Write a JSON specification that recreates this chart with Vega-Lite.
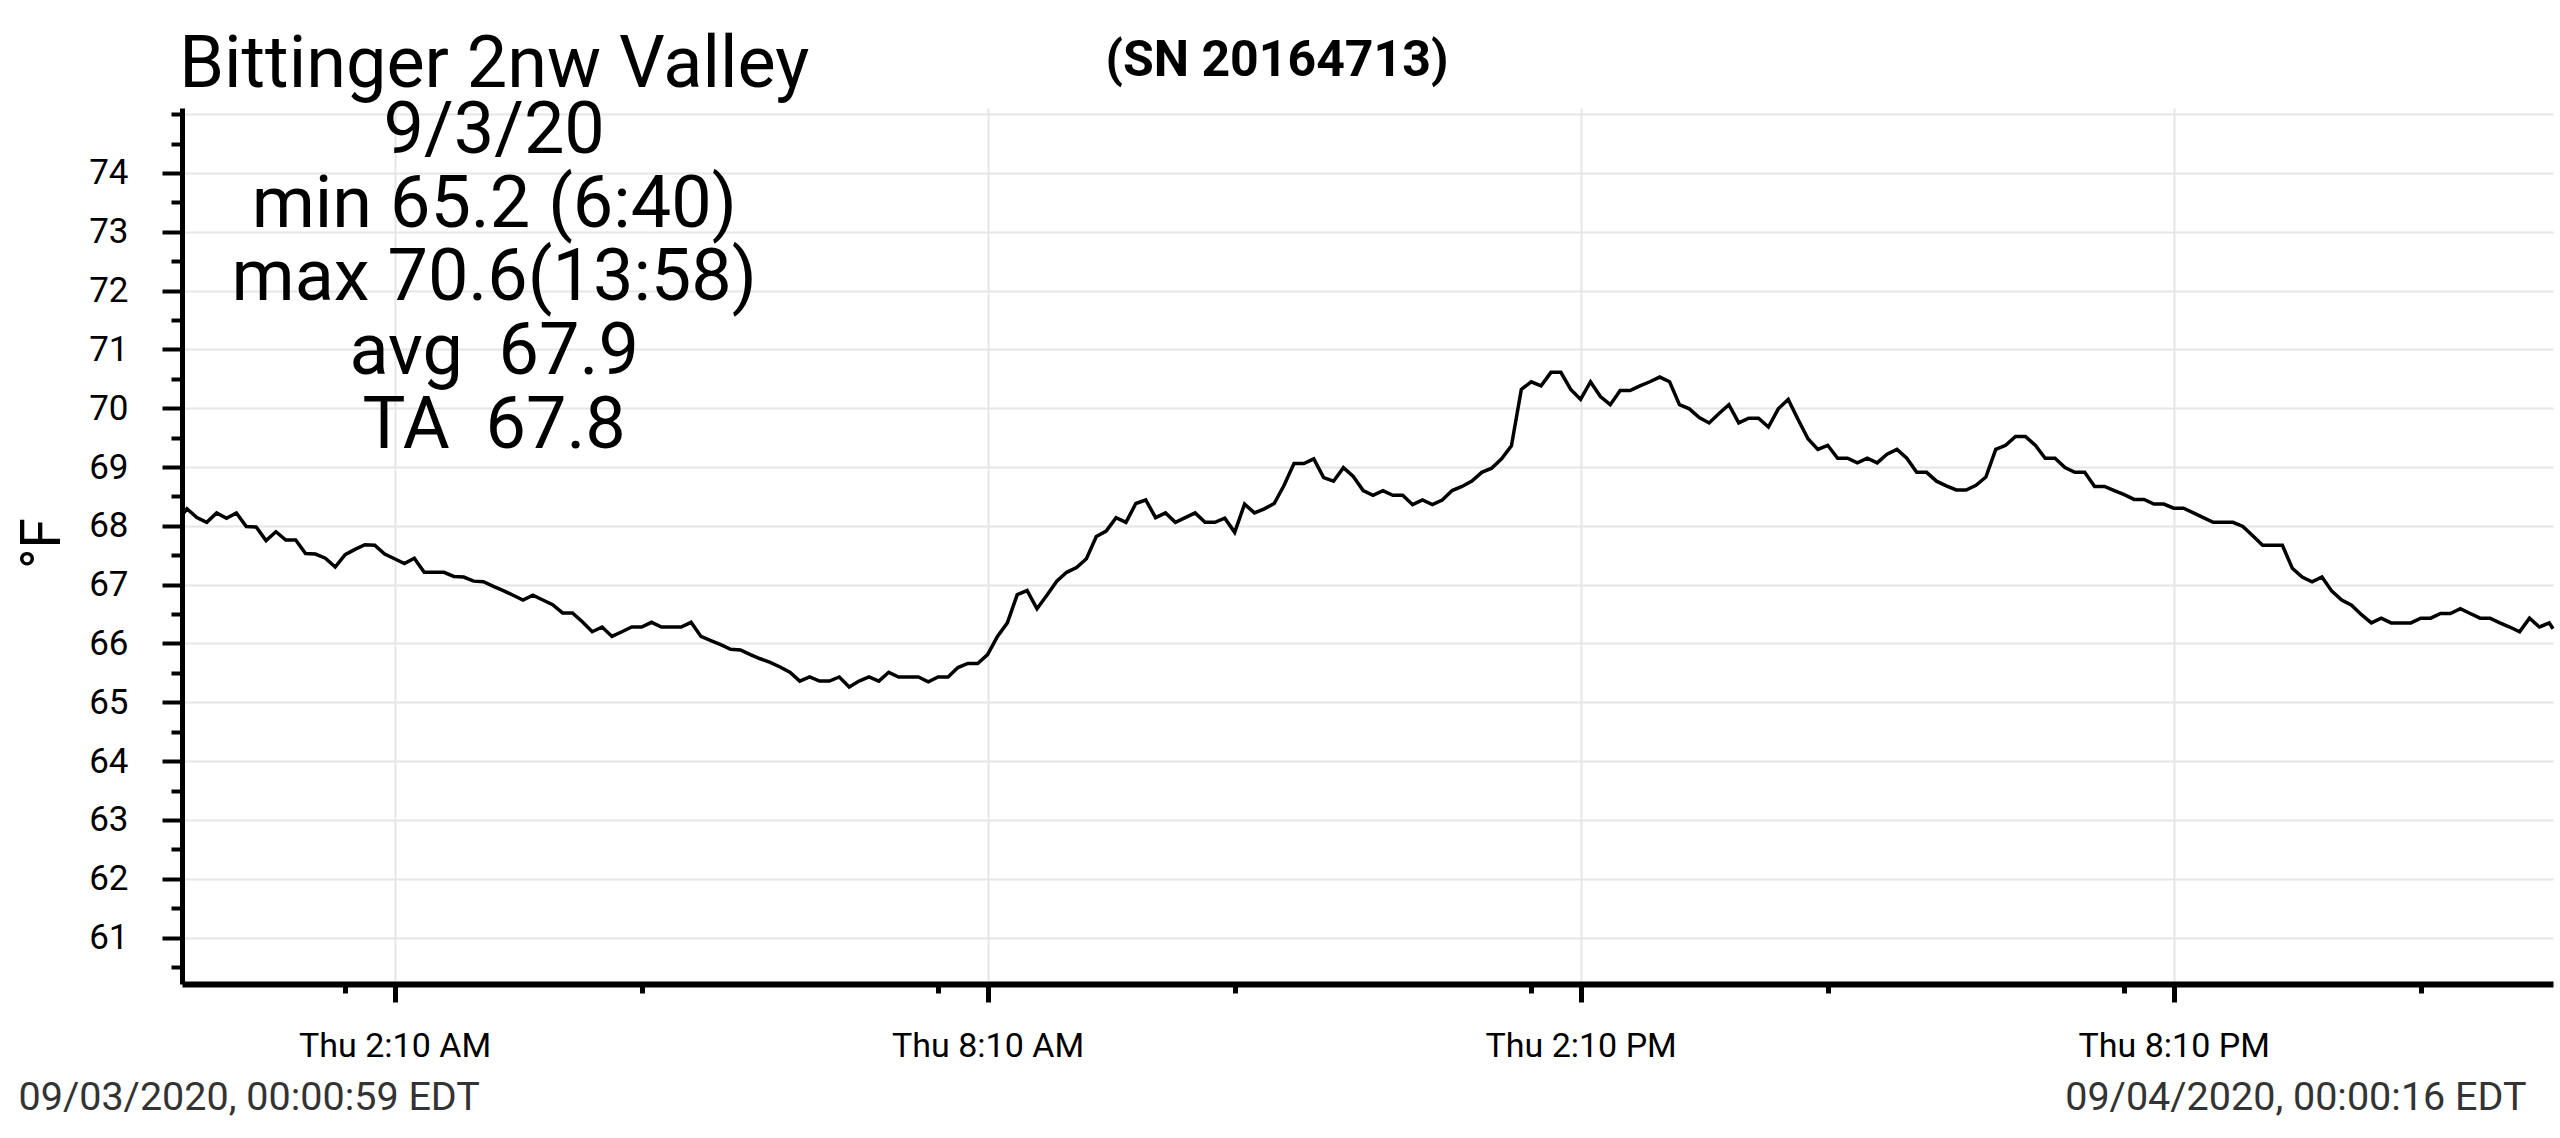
{
  "$schema": "https://vega.github.io/schema/vega-lite/v6.json",
  "description": "Bittinger 2nw Valley logger, 9/3/20, temperature every 6 minutes",
  "width": 2371,
  "height": 876,
  "autosize": {"type": "none"},
  "padding": {"left": 182, "top": 108, "right": 7, "bottom": 154},
  "background": "white",
  "config": {"font": "Roboto", "view": {"stroke": null}},
  "datasets": {
    "temps": [
      {"t": "2020-09-03T00:00:59", "f": 68.18},
      {"t": "2020-09-03T00:04", "f": 68.29}, {"t": "2020-09-03T00:10", "f": 68.14}, {"t": "2020-09-03T00:16", "f": 68.06}, {"t": "2020-09-03T00:22", "f": 68.22}, {"t": "2020-09-03T00:28", "f": 68.13},
      {"t": "2020-09-03T00:34", "f": 68.22}, {"t": "2020-09-03T00:40", "f": 67.99}, {"t": "2020-09-03T00:46", "f": 67.98}, {"t": "2020-09-03T00:52", "f": 67.75}, {"t": "2020-09-03T00:58", "f": 67.90},
      {"t": "2020-09-03T01:04", "f": 67.76}, {"t": "2020-09-03T01:10", "f": 67.76}, {"t": "2020-09-03T01:16", "f": 67.53}, {"t": "2020-09-03T01:22", "f": 67.52}, {"t": "2020-09-03T01:28", "f": 67.45},
      {"t": "2020-09-03T01:34", "f": 67.30}, {"t": "2020-09-03T01:40", "f": 67.51}, {"t": "2020-09-03T01:46", "f": 67.60}, {"t": "2020-09-03T01:52", "f": 67.68}, {"t": "2020-09-03T01:58", "f": 67.67},
      {"t": "2020-09-03T02:04", "f": 67.52}, {"t": "2020-09-03T02:10", "f": 67.44}, {"t": "2020-09-03T02:16", "f": 67.36}, {"t": "2020-09-03T02:22", "f": 67.45}, {"t": "2020-09-03T02:28", "f": 67.21},
      {"t": "2020-09-03T02:34", "f": 67.21}, {"t": "2020-09-03T02:40", "f": 67.21}, {"t": "2020-09-03T02:46", "f": 67.14}, {"t": "2020-09-03T02:52", "f": 67.13}, {"t": "2020-09-03T02:58", "f": 67.06},
      {"t": "2020-09-03T03:04", "f": 67.05}, {"t": "2020-09-03T03:10", "f": 66.97}, {"t": "2020-09-03T03:16", "f": 66.90}, {"t": "2020-09-03T03:22", "f": 66.82}, {"t": "2020-09-03T03:28", "f": 66.74},
      {"t": "2020-09-03T03:34", "f": 66.82}, {"t": "2020-09-03T03:40", "f": 66.74}, {"t": "2020-09-03T03:46", "f": 66.66}, {"t": "2020-09-03T03:52", "f": 66.52}, {"t": "2020-09-03T03:58", "f": 66.52},
      {"t": "2020-09-03T04:04", "f": 66.37}, {"t": "2020-09-03T04:10", "f": 66.20}, {"t": "2020-09-03T04:16", "f": 66.28}, {"t": "2020-09-03T04:22", "f": 66.12}, {"t": "2020-09-03T04:28", "f": 66.20},
      {"t": "2020-09-03T04:34", "f": 66.28}, {"t": "2020-09-03T04:40", "f": 66.28}, {"t": "2020-09-03T04:46", "f": 66.36}, {"t": "2020-09-03T04:52", "f": 66.28}, {"t": "2020-09-03T04:58", "f": 66.28},
      {"t": "2020-09-03T05:04", "f": 66.28}, {"t": "2020-09-03T05:10", "f": 66.36}, {"t": "2020-09-03T05:16", "f": 66.12}, {"t": "2020-09-03T05:22", "f": 66.05}, {"t": "2020-09-03T05:28", "f": 65.98},
      {"t": "2020-09-03T05:34", "f": 65.90}, {"t": "2020-09-03T05:40", "f": 65.89}, {"t": "2020-09-03T05:46", "f": 65.81}, {"t": "2020-09-03T05:52", "f": 65.74}, {"t": "2020-09-03T05:58", "f": 65.68},
      {"t": "2020-09-03T06:04", "f": 65.60}, {"t": "2020-09-03T06:10", "f": 65.51}, {"t": "2020-09-03T06:16", "f": 65.36}, {"t": "2020-09-03T06:22", "f": 65.43}, {"t": "2020-09-03T06:28", "f": 65.36},
      {"t": "2020-09-03T06:34", "f": 65.36}, {"t": "2020-09-03T06:40", "f": 65.43}, {"t": "2020-09-03T06:46", "f": 65.26}, {"t": "2020-09-03T06:52", "f": 65.36}, {"t": "2020-09-03T06:58", "f": 65.43},
      {"t": "2020-09-03T07:04", "f": 65.36}, {"t": "2020-09-03T07:10", "f": 65.51}, {"t": "2020-09-03T07:16", "f": 65.43}, {"t": "2020-09-03T07:22", "f": 65.43}, {"t": "2020-09-03T07:28", "f": 65.43},
      {"t": "2020-09-03T07:34", "f": 65.35}, {"t": "2020-09-03T07:40", "f": 65.43}, {"t": "2020-09-03T07:46", "f": 65.43}, {"t": "2020-09-03T07:52", "f": 65.59}, {"t": "2020-09-03T07:58", "f": 65.66},
      {"t": "2020-09-03T08:04", "f": 65.66}, {"t": "2020-09-03T08:10", "f": 65.81}, {"t": "2020-09-03T08:16", "f": 66.12}, {"t": "2020-09-03T08:22", "f": 66.35}, {"t": "2020-09-03T08:28", "f": 66.83},
      {"t": "2020-09-03T08:34", "f": 66.90}, {"t": "2020-09-03T08:40", "f": 66.59}, {"t": "2020-09-03T08:46", "f": 66.82}, {"t": "2020-09-03T08:52", "f": 67.06}, {"t": "2020-09-03T08:58", "f": 67.21},
      {"t": "2020-09-03T09:04", "f": 67.29}, {"t": "2020-09-03T09:10", "f": 67.44}, {"t": "2020-09-03T09:16", "f": 67.82}, {"t": "2020-09-03T09:22", "f": 67.91}, {"t": "2020-09-03T09:28", "f": 68.14},
      {"t": "2020-09-03T09:34", "f": 68.06}, {"t": "2020-09-03T09:40", "f": 68.38}, {"t": "2020-09-03T09:46", "f": 68.44}, {"t": "2020-09-03T09:52", "f": 68.14}, {"t": "2020-09-03T09:58", "f": 68.22},
      {"t": "2020-09-03T10:04", "f": 68.06}, {"t": "2020-09-03T10:10", "f": 68.14}, {"t": "2020-09-03T10:16", "f": 68.22}, {"t": "2020-09-03T10:22", "f": 68.06}, {"t": "2020-09-03T10:28", "f": 68.06},
      {"t": "2020-09-03T10:34", "f": 68.13}, {"t": "2020-09-03T10:40", "f": 67.89}, {"t": "2020-09-03T10:46", "f": 68.37}, {"t": "2020-09-03T10:52", "f": 68.22}, {"t": "2020-09-03T10:58", "f": 68.29},
      {"t": "2020-09-03T11:04", "f": 68.38}, {"t": "2020-09-03T11:10", "f": 68.69}, {"t": "2020-09-03T11:16", "f": 69.06}, {"t": "2020-09-03T11:22", "f": 69.06}, {"t": "2020-09-03T11:28", "f": 69.14},
      {"t": "2020-09-03T11:34", "f": 68.82}, {"t": "2020-09-03T11:40", "f": 68.76}, {"t": "2020-09-03T11:46", "f": 68.99}, {"t": "2020-09-03T11:52", "f": 68.84}, {"t": "2020-09-03T11:58", "f": 68.60},
      {"t": "2020-09-03T12:04", "f": 68.52}, {"t": "2020-09-03T12:10", "f": 68.60}, {"t": "2020-09-03T12:16", "f": 68.52}, {"t": "2020-09-03T12:22", "f": 68.52}, {"t": "2020-09-03T12:28", "f": 68.36},
      {"t": "2020-09-03T12:34", "f": 68.44}, {"t": "2020-09-03T12:40", "f": 68.36}, {"t": "2020-09-03T12:46", "f": 68.44}, {"t": "2020-09-03T12:52", "f": 68.60}, {"t": "2020-09-03T12:58", "f": 68.67},
      {"t": "2020-09-03T13:04", "f": 68.76}, {"t": "2020-09-03T13:10", "f": 68.91}, {"t": "2020-09-03T13:16", "f": 68.98}, {"t": "2020-09-03T13:22", "f": 69.14}, {"t": "2020-09-03T13:28", "f": 69.36},
      {"t": "2020-09-03T13:34", "f": 70.32}, {"t": "2020-09-03T13:40", "f": 70.45}, {"t": "2020-09-03T13:46", "f": 70.38}, {"t": "2020-09-03T13:52", "f": 70.61}, {"t": "2020-09-03T13:58", "f": 70.61},
      {"t": "2020-09-03T14:04", "f": 70.32}, {"t": "2020-09-03T14:10", "f": 70.15}, {"t": "2020-09-03T14:16", "f": 70.45}, {"t": "2020-09-03T14:22", "f": 70.20}, {"t": "2020-09-03T14:28", "f": 70.06},
      {"t": "2020-09-03T14:34", "f": 70.30}, {"t": "2020-09-03T14:40", "f": 70.30}, {"t": "2020-09-03T14:46", "f": 70.38}, {"t": "2020-09-03T14:52", "f": 70.45}, {"t": "2020-09-03T14:58", "f": 70.53},
      {"t": "2020-09-03T15:04", "f": 70.45}, {"t": "2020-09-03T15:10", "f": 70.06}, {"t": "2020-09-03T15:16", "f": 69.99}, {"t": "2020-09-03T15:22", "f": 69.84}, {"t": "2020-09-03T15:28", "f": 69.75},
      {"t": "2020-09-03T15:34", "f": 69.91}, {"t": "2020-09-03T15:40", "f": 70.06}, {"t": "2020-09-03T15:46", "f": 69.75}, {"t": "2020-09-03T15:52", "f": 69.83}, {"t": "2020-09-03T15:58", "f": 69.83},
      {"t": "2020-09-03T16:04", "f": 69.68}, {"t": "2020-09-03T16:10", "f": 69.99}, {"t": "2020-09-03T16:16", "f": 70.15}, {"t": "2020-09-03T16:22", "f": 69.81}, {"t": "2020-09-03T16:28", "f": 69.48},
      {"t": "2020-09-03T16:34", "f": 69.30}, {"t": "2020-09-03T16:40", "f": 69.37}, {"t": "2020-09-03T16:46", "f": 69.15}, {"t": "2020-09-03T16:52", "f": 69.15}, {"t": "2020-09-03T16:58", "f": 69.07},
      {"t": "2020-09-03T17:04", "f": 69.15}, {"t": "2020-09-03T17:10", "f": 69.07}, {"t": "2020-09-03T17:16", "f": 69.22}, {"t": "2020-09-03T17:22", "f": 69.30}, {"t": "2020-09-03T17:28", "f": 69.15},
      {"t": "2020-09-03T17:34", "f": 68.91}, {"t": "2020-09-03T17:40", "f": 68.91}, {"t": "2020-09-03T17:46", "f": 68.76}, {"t": "2020-09-03T17:52", "f": 68.68}, {"t": "2020-09-03T17:58", "f": 68.61},
      {"t": "2020-09-03T18:04", "f": 68.61}, {"t": "2020-09-03T18:10", "f": 68.69}, {"t": "2020-09-03T18:16", "f": 68.83}, {"t": "2020-09-03T18:22", "f": 69.30}, {"t": "2020-09-03T18:28", "f": 69.37},
      {"t": "2020-09-03T18:34", "f": 69.52}, {"t": "2020-09-03T18:40", "f": 69.52}, {"t": "2020-09-03T18:46", "f": 69.37}, {"t": "2020-09-03T18:52", "f": 69.15}, {"t": "2020-09-03T18:58", "f": 69.15},
      {"t": "2020-09-03T19:04", "f": 68.99}, {"t": "2020-09-03T19:10", "f": 68.91}, {"t": "2020-09-03T19:16", "f": 68.91}, {"t": "2020-09-03T19:22", "f": 68.67}, {"t": "2020-09-03T19:28", "f": 68.67},
      {"t": "2020-09-03T19:34", "f": 68.60}, {"t": "2020-09-03T19:40", "f": 68.53}, {"t": "2020-09-03T19:46", "f": 68.45}, {"t": "2020-09-03T19:52", "f": 68.45}, {"t": "2020-09-03T19:58", "f": 68.37},
      {"t": "2020-09-03T20:04", "f": 68.37}, {"t": "2020-09-03T20:10", "f": 68.30}, {"t": "2020-09-03T20:16", "f": 68.30}, {"t": "2020-09-03T20:22", "f": 68.22}, {"t": "2020-09-03T20:28", "f": 68.14},
      {"t": "2020-09-03T20:34", "f": 68.06}, {"t": "2020-09-03T20:40", "f": 68.06}, {"t": "2020-09-03T20:46", "f": 68.06}, {"t": "2020-09-03T20:52", "f": 67.99}, {"t": "2020-09-03T20:58", "f": 67.83},
      {"t": "2020-09-03T21:04", "f": 67.67}, {"t": "2020-09-03T21:10", "f": 67.67}, {"t": "2020-09-03T21:16", "f": 67.67}, {"t": "2020-09-03T21:22", "f": 67.28}, {"t": "2020-09-03T21:28", "f": 67.13},
      {"t": "2020-09-03T21:34", "f": 67.05}, {"t": "2020-09-03T21:40", "f": 67.13}, {"t": "2020-09-03T21:46", "f": 66.89}, {"t": "2020-09-03T21:52", "f": 66.74}, {"t": "2020-09-03T21:58", "f": 66.65},
      {"t": "2020-09-03T22:04", "f": 66.49}, {"t": "2020-09-03T22:10", "f": 66.35}, {"t": "2020-09-03T22:16", "f": 66.43}, {"t": "2020-09-03T22:22", "f": 66.35}, {"t": "2020-09-03T22:28", "f": 66.35},
      {"t": "2020-09-03T22:34", "f": 66.35}, {"t": "2020-09-03T22:40", "f": 66.43}, {"t": "2020-09-03T22:46", "f": 66.43}, {"t": "2020-09-03T22:52", "f": 66.51}, {"t": "2020-09-03T22:58", "f": 66.51},
      {"t": "2020-09-03T23:04", "f": 66.59}, {"t": "2020-09-03T23:10", "f": 66.51}, {"t": "2020-09-03T23:16", "f": 66.43}, {"t": "2020-09-03T23:22", "f": 66.43}, {"t": "2020-09-03T23:28", "f": 66.35},
      {"t": "2020-09-03T23:34", "f": 66.28}, {"t": "2020-09-03T23:40", "f": 66.20}, {"t": "2020-09-03T23:46", "f": 66.43}, {"t": "2020-09-03T23:52", "f": 66.28}, {"t": "2020-09-03T23:58", "f": 66.35},
      {"t": "2020-09-04T00:00:16", "f": 66.25}
    ]
  },
  "resolve": {"axis": {"x": "independent", "y": "independent"}},
  "layer": [
    {
      "data": {"name": "temps"},
      "mark": {"type": "line", "color": "black", "strokeWidth": 3.5},
      "encoding": {
        "x": {
          "field": "t",
          "type": "temporal",
          "scale": {
            "domain": [
              {"year": 2020, "month": 9, "date": 3, "hours": 0, "minutes": 0, "seconds": 59},
              {"year": 2020, "month": 9, "date": 4, "hours": 0, "minutes": 0, "seconds": 16}
            ],
            "nice": false
          },
          "axis": {
            "orient": "bottom",
            "values": [
              {"year": 2020, "month": 9, "date": 3, "hours": 2, "minutes": 10},
              {"year": 2020, "month": 9, "date": 3, "hours": 8, "minutes": 10},
              {"year": 2020, "month": 9, "date": 3, "hours": 14, "minutes": 10},
              {"year": 2020, "month": 9, "date": 3, "hours": 20, "minutes": 10}
            ],
            "format": "%a %-I:%M %p",
            "labelFont": "Roboto",
            "labelFontSize": 34,
            "labelColor": "black",
            "labelBaseline": "alphabetic",
            "labelPadding": 54,
            "labelLimit": 0,
            "labelFlush": false,
            "labelOverlap": false,
            "tickSize": 18,
            "tickWidth": 5,
            "tickColor": "black",
            "domainColor": "black",
            "domainWidth": 6,
            "grid": true,
            "gridColor": "#e6e6e6",
            "gridWidth": 2,
            "title": "09/03/2020, 00:00:59 EDT",
            "titleFont": "Roboto",
            "titleFontSize": 39.5,
            "titleFontWeight": "normal",
            "titleColor": "#333333",
            "titleAnchor": "start",
            "titleAlign": "left",
            "titleBaseline": "alphabetic",
            "titleX": -164,
            "titleY": 125
          }
        },
        "y": {
          "field": "f",
          "type": "quantitative",
          "scale": {"domain": [60.21, 75.105], "nice": false, "zero": false},
          "axis": {
            "orient": "left",
            "values": [61, 62, 63, 64, 65, 66, 67, 68, 69, 70, 71, 72, 73, 74],
            "labelFont": "Roboto",
            "labelFontSize": 35,
            "labelColor": "black",
            "labelPadding": 34,
            "tickSize": 20,
            "tickWidth": 4,
            "tickColor": "black",
            "domainColor": "black",
            "domainWidth": 5,
            "grid": true,
            "gridColor": "#e6e6e6",
            "gridWidth": 2,
            "title": "°F",
            "titleFont": "Roboto",
            "titleFontSize": 55,
            "titleFontWeight": "normal",
            "titleColor": "black",
            "titleAngle": 270,
            "titleAlign": "center",
            "titleBaseline": "alphabetic",
            "titleX": -123,
            "titleY": 435
          }
        }
      }
    },
    {
      "data": {"values": [{}]},
      "mark": {"type": "text", "font": "Roboto", "fontSize": 72, "align": "center", "baseline": "alphabetic", "color": "black"},
      "encoding": {
        "text": {"value": "Bittinger 2nw Valley"},
        "x": {
          "datum": {"year": 2020, "month": 9, "date": 3, "hours": 3, "minutes": 10, "seconds": 30},
          "type": "temporal",
          "axis": {
            "orient": "bottom",
            "values": [
              {"year": 2020, "month": 9, "date": 3, "hours": 1, "minutes": 40},
              {"year": 2020, "month": 9, "date": 3, "hours": 4, "minutes": 40},
              {"year": 2020, "month": 9, "date": 3, "hours": 7, "minutes": 40},
              {"year": 2020, "month": 9, "date": 3, "hours": 10, "minutes": 40},
              {"year": 2020, "month": 9, "date": 3, "hours": 13, "minutes": 40},
              {"year": 2020, "month": 9, "date": 3, "hours": 16, "minutes": 40},
              {"year": 2020, "month": 9, "date": 3, "hours": 19, "minutes": 40},
              {"year": 2020, "month": 9, "date": 3, "hours": 22, "minutes": 40}
            ],
            "labels": false,
            "domain": false,
            "grid": false,
            "tickSize": 9,
            "tickWidth": 5,
            "tickColor": "black",
            "title": "09/04/2020, 00:00:16 EDT",
            "titleFont": "Roboto",
            "titleFontSize": 39.5,
            "titleFontWeight": "normal",
            "titleColor": "#333333",
            "titleAnchor": "end",
            "titleAlign": "right",
            "titleBaseline": "alphabetic",
            "titleX": 2344,
            "titleY": 125
          }
        },
        "y": {
          "datum": 75.47,
          "type": "quantitative",
          "axis": {
            "orient": "left",
            "values": [60.5, 61.5, 62.5, 63.5, 64.5, 65.5, 66.5, 67.5, 68.5, 69.5, 70.5, 71.5, 72.5, 73.5, 74.5, 75],
            "labels": false,
            "domain": false,
            "tickSize": 11,
            "tickWidth": 4,
            "tickColor": "black",
            "grid": true,
            "gridColor": "#e6e6e6",
            "gridWidth": 2,
            "gridOpacity": {"condition": {"test": "datum.value == 75", "value": 1}, "value": 0},
            "title": null
          }
        }
      }
    },
    {
      "data": {"values": [{}]},
      "mark": {"type": "text", "font": "Roboto", "fontSize": 72, "lineHeight": 73.75, "align": "center", "baseline": "alphabetic", "color": "black"},
      "encoding": {
        "text": {"value": ["9/3/20", "min 65.2 (6:40)", "max 70.6(13:58)", "avg \u00a067.9", "TA \u00a067.8"]},
        "x": {
          "datum": {"year": 2020, "month": 9, "date": 3, "hours": 3, "minutes": 10, "seconds": 30},
          "type": "temporal",
          "axis": null
        },
        "y": {"datum": 74.34, "type": "quantitative", "axis": null}
      }
    },
    {
      "data": {"values": [{}]},
      "mark": {"type": "text", "font": "Roboto", "fontSize": 50, "fontWeight": "bold", "align": "center", "baseline": "alphabetic", "color": "black"},
      "encoding": {
        "text": {"value": "(SN 20164713)"},
        "x": {
          "datum": {"year": 2020, "month": 9, "date": 3, "hours": 11, "minutes": 5, "seconds": 40},
          "type": "temporal",
          "axis": null
        },
        "y": {"datum": 75.65, "type": "quantitative", "axis": null}
      }
    }
  ]
}
